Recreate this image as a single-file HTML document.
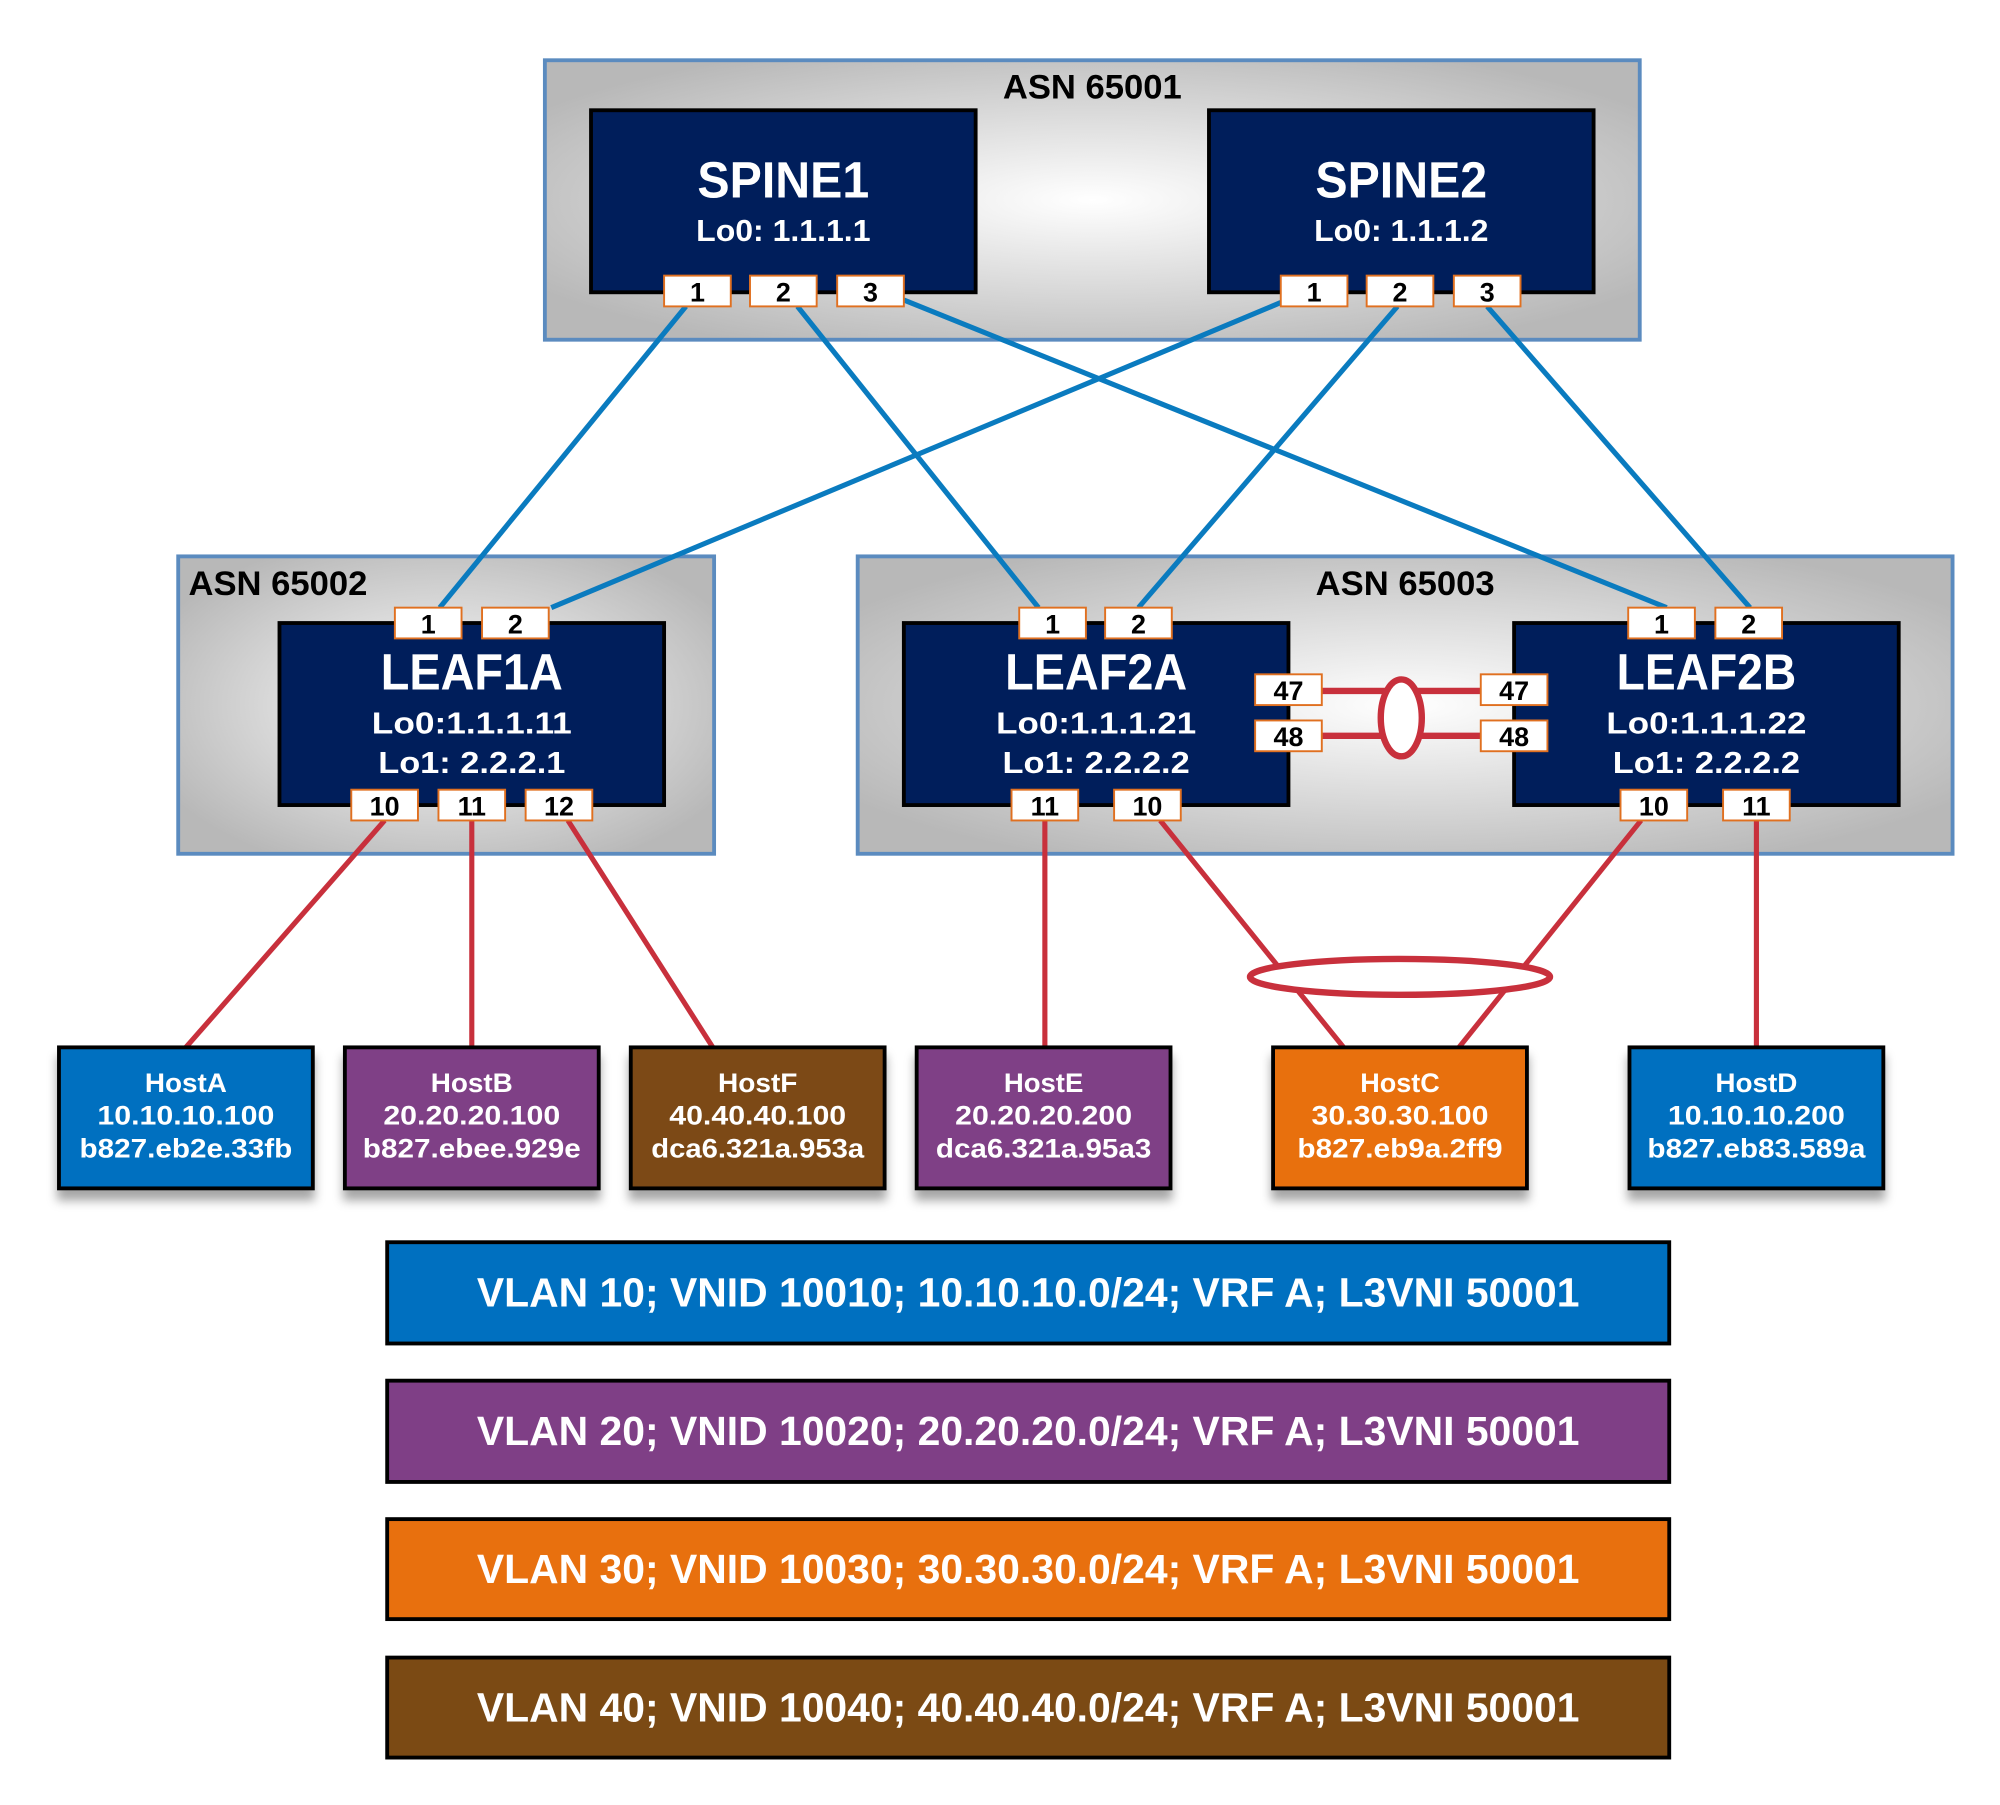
<!DOCTYPE html>
<html><head><meta charset="utf-8"><style>html,body{margin:0;padding:0;background:#fff}svg{display:block}</style></head><body>
<svg width="2000" height="1805" viewBox="0 0 1560 1408" preserveAspectRatio="none" xmlns="http://www.w3.org/2000/svg" font-family="Liberation Sans, sans-serif" font-weight="bold">
<defs>
<radialGradient id="g" cx="50%" cy="50%" r="60%"><stop offset="0" stop-color="#ffffff"/><stop offset="1" stop-color="#b8b8b8"/></radialGradient>
<filter id="sh" x="-10%" y="-10%" width="130%" height="140%"><feDropShadow dx="0" dy="8" stdDeviation="4" flood-color="#000" flood-opacity="0.35"/></filter>
</defs>
<rect x="425" y="47" width="854" height="218" fill="url(#g)" stroke="#5b8bbf" stroke-width="3"/>
<text x="852" y="77" font-size="27" text-anchor="middle" fill="#000">ASN 65001</text>
<rect x="139" y="434" width="418" height="232" fill="url(#g)" stroke="#5b8bbf" stroke-width="3"/>
<text x="147" y="464" font-size="27" fill="#000">ASN 65002</text>
<rect x="669" y="434" width="854" height="232" fill="url(#g)" stroke="#5b8bbf" stroke-width="3"/>
<text x="1096" y="464" font-size="27" text-anchor="middle" fill="#000">ASN 65003</text>
<g stroke="#0a7bbf" stroke-width="4">
<line x1="535" y1="239" x2="343" y2="474"/>
<line x1="622" y1="239" x2="810" y2="474"/>
<line x1="705" y1="234" x2="1300" y2="474"/>
<line x1="999" y1="236" x2="430" y2="474"/>
<line x1="1090" y1="239" x2="888" y2="474"/>
<line x1="1160" y1="239" x2="1365" y2="474"/>
</g>
<g fill="#001e5b" stroke="#000" stroke-width="3">
<rect x="461" y="86" width="300" height="142"/>
<rect x="943" y="86" width="300" height="142"/>
<rect x="218" y="486" width="300" height="142"/>
<rect x="705" y="486" width="300" height="142"/>
<rect x="1181" y="486" width="300" height="142"/>
</g>
<g fill="#fff" text-anchor="middle">
<text x="611" y="154" font-size="40" textLength="134" lengthAdjust="spacingAndGlyphs">SPINE1</text>
<text x="611" y="188" font-size="24" textLength="136" lengthAdjust="spacingAndGlyphs">Lo0: 1.1.1.1</text>
<text x="1093" y="154" font-size="40" textLength="134" lengthAdjust="spacingAndGlyphs">SPINE2</text>
<text x="1093" y="188" font-size="24" textLength="136" lengthAdjust="spacingAndGlyphs">Lo0: 1.1.1.2</text>
<text x="368" y="538" font-size="40" textLength="142" lengthAdjust="spacingAndGlyphs">LEAF1A</text>
<text x="368" y="572" font-size="24" textLength="156" lengthAdjust="spacingAndGlyphs">Lo0:1.1.1.11</text>
<text x="368" y="603" font-size="24" textLength="146" lengthAdjust="spacingAndGlyphs">Lo1: 2.2.2.1</text>
<text x="855" y="538" font-size="40" textLength="142" lengthAdjust="spacingAndGlyphs">LEAF2A</text>
<text x="855" y="572" font-size="24" textLength="156" lengthAdjust="spacingAndGlyphs">Lo0:1.1.1.21</text>
<text x="855" y="603" font-size="24" textLength="146" lengthAdjust="spacingAndGlyphs">Lo1: 2.2.2.2</text>
<text x="1331" y="538" font-size="40" textLength="140" lengthAdjust="spacingAndGlyphs">LEAF2B</text>
<text x="1331" y="572" font-size="24" textLength="156" lengthAdjust="spacingAndGlyphs">Lo0:1.1.1.22</text>
<text x="1331" y="603" font-size="24" textLength="146" lengthAdjust="spacingAndGlyphs">Lo1: 2.2.2.2</text>
</g>
<g stroke="#c8303c" stroke-width="5" fill="none">
<line x1="1031" y1="539" x2="1155" y2="539"/>
<line x1="1031" y1="574" x2="1155" y2="574"/>
<ellipse cx="1093" cy="560" rx="16" ry="30" fill="#fff"/>
</g>
<g stroke="#c8303c" stroke-width="4">
<line x1="300" y1="640" x2="145" y2="817"/>
<line x1="368" y1="640" x2="368" y2="817"/>
<line x1="443" y1="640" x2="556" y2="817"/>
<line x1="815" y1="640" x2="815" y2="817"/>
<line x1="905" y1="640" x2="1048" y2="817"/>
<line x1="1280" y1="640" x2="1138" y2="817"/>
<line x1="1370" y1="640" x2="1370" y2="817"/>
</g>
<ellipse cx="1092" cy="762" rx="117" ry="14" fill="#fff" stroke="#c8303c" stroke-width="5"/>
<g fill="#fff" stroke="#e07020" stroke-width="1.5">
<rect x="518" y="215" width="52" height="24"/><rect x="585" y="215" width="52" height="24"/><rect x="653" y="215" width="52" height="24"/>
<rect x="999" y="215" width="52" height="24"/><rect x="1066" y="215" width="52" height="24"/><rect x="1134" y="215" width="52" height="24"/>
<rect x="308" y="474" width="52" height="24"/><rect x="376" y="474" width="52" height="24"/>
<rect x="274" y="616" width="52" height="24"/><rect x="342" y="616" width="52" height="24"/><rect x="410" y="616" width="52" height="24"/>
<rect x="795" y="474" width="52" height="24"/><rect x="862" y="474" width="52" height="24"/>
<rect x="789" y="616" width="52" height="24"/><rect x="869" y="616" width="52" height="24"/>
<rect x="1270" y="474" width="52" height="24"/><rect x="1338" y="474" width="52" height="24"/>
<rect x="1264" y="616" width="52" height="24"/><rect x="1344" y="616" width="52" height="24"/>
<rect x="979" y="526" width="52" height="24"/><rect x="979" y="562" width="52" height="24"/>
<rect x="1155" y="526" width="52" height="24"/><rect x="1155" y="562" width="52" height="24"/>
</g>
<g fill="#000" font-size="21" text-anchor="middle">
<text x="544" y="235">1</text><text x="611" y="235">2</text><text x="679" y="235">3</text>
<text x="1025" y="235">1</text><text x="1092" y="235">2</text><text x="1160" y="235">3</text>
<text x="334" y="494">1</text><text x="402" y="494">2</text>
<text x="300" y="636">10</text><text x="368" y="636">11</text><text x="436" y="636">12</text>
<text x="821" y="494">1</text><text x="888" y="494">2</text>
<text x="815" y="636">11</text><text x="895" y="636">10</text>
<text x="1296" y="494">1</text><text x="1364" y="494">2</text>
<text x="1290" y="636">10</text><text x="1370" y="636">11</text>
<text x="1005" y="546">47</text><text x="1005" y="582">48</text>
<text x="1181" y="546">47</text><text x="1181" y="582">48</text>
</g>
<g stroke="#000" stroke-width="3" filter="url(#sh)">
<rect x="46" y="817" width="198" height="110" fill="#0070c0"/>
<rect x="269" y="817" width="198" height="110" fill="#7f3f86"/>
<rect x="492" y="817" width="198" height="110" fill="#7b4a14"/>
<rect x="715" y="817" width="198" height="110" fill="#7f3f86"/>
<rect x="993" y="817" width="198" height="110" fill="#e8700e"/>
<rect x="1271" y="817" width="198" height="110" fill="#0070c0"/>
</g>
<g fill="#fff" font-size="21" text-anchor="middle">
<text x="145" y="852" textLength="64" lengthAdjust="spacingAndGlyphs">HostA</text>
<text x="145" y="877" textLength="138" lengthAdjust="spacingAndGlyphs">10.10.10.100</text>
<text x="145" y="903" textLength="166" lengthAdjust="spacingAndGlyphs">b827.eb2e.33fb</text>
<text x="368" y="852" textLength="64" lengthAdjust="spacingAndGlyphs">HostB</text>
<text x="368" y="877" textLength="138" lengthAdjust="spacingAndGlyphs">20.20.20.100</text>
<text x="368" y="903" textLength="170" lengthAdjust="spacingAndGlyphs">b827.ebee.929e</text>
<text x="591" y="852" textLength="62" lengthAdjust="spacingAndGlyphs">HostF</text>
<text x="591" y="877" textLength="138" lengthAdjust="spacingAndGlyphs">40.40.40.100</text>
<text x="591" y="903" textLength="166" lengthAdjust="spacingAndGlyphs">dca6.321a.953a</text>
<text x="814" y="852" textLength="62" lengthAdjust="spacingAndGlyphs">HostE</text>
<text x="814" y="877" textLength="138" lengthAdjust="spacingAndGlyphs">20.20.20.200</text>
<text x="814" y="903" textLength="168" lengthAdjust="spacingAndGlyphs">dca6.321a.95a3</text>
<text x="1092" y="852" textLength="62" lengthAdjust="spacingAndGlyphs">HostC</text>
<text x="1092" y="877" textLength="138" lengthAdjust="spacingAndGlyphs">30.30.30.100</text>
<text x="1092" y="903" textLength="160" lengthAdjust="spacingAndGlyphs">b827.eb9a.2ff9</text>
<text x="1370" y="852" textLength="64" lengthAdjust="spacingAndGlyphs">HostD</text>
<text x="1370" y="877" textLength="138" lengthAdjust="spacingAndGlyphs">10.10.10.200</text>
<text x="1370" y="903" textLength="170" lengthAdjust="spacingAndGlyphs">b827.eb83.589a</text>
</g>
<g stroke="#000" stroke-width="3">
<rect x="302" y="969" width="1000" height="79" fill="#0070c0"/>
<rect x="302" y="1077" width="1000" height="79" fill="#7f3f86"/>
<rect x="302" y="1185" width="1000" height="78" fill="#e8700e"/>
<rect x="302" y="1293" width="1000" height="78" fill="#7b4a14"/>
</g>
<g fill="#fff" font-size="32" text-anchor="middle">
<text x="802" y="1019" textLength="860" lengthAdjust="spacingAndGlyphs">VLAN 10; VNID 10010; 10.10.10.0/24; VRF A; L3VNI 50001</text>
<text x="802" y="1127" textLength="860" lengthAdjust="spacingAndGlyphs">VLAN 20; VNID 10020; 20.20.20.0/24; VRF A; L3VNI 50001</text>
<text x="802" y="1235" textLength="860" lengthAdjust="spacingAndGlyphs">VLAN 30; VNID 10030; 30.30.30.0/24; VRF A; L3VNI 50001</text>
<text x="802" y="1343" textLength="860" lengthAdjust="spacingAndGlyphs">VLAN 40; VNID 10040; 40.40.40.0/24; VRF A; L3VNI 50001</text>
</g>
</svg>
</body></html>
